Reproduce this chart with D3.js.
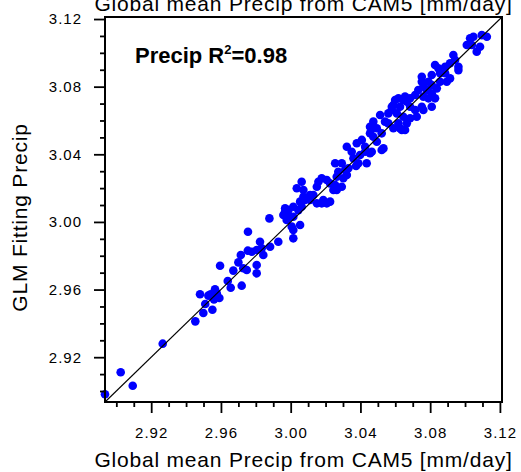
<!DOCTYPE html>
<html>
<head>
<meta charset="utf-8">
<script src="https://cdn.jsdelivr.net/npm/d3@7"></script>
<style>
  html, body { margin: 0; padding: 0; background: #fff; }
  svg { display: block; }
  text { font-family: "Liberation Sans", Arial, Helvetica, sans-serif; fill: #000; }
</style>
</head>
<body>
<svg id="chart" width="521" height="472"></svg>
<script>
// Global mean precipitation: CAM5 simulation (x) vs GLM fitted value (y), mm/day
const camPrecip = [
  2.8935, 2.9025, 2.9094, 2.9266, 2.9453, 2.9480, 2.9499, 2.9510, 2.9528, 2.9541,
  2.9551, 2.9566, 2.9560, 2.9576, 2.9591, 2.9595, 2.9639, 2.9656, 2.9671, 2.9700,
  2.9714, 2.9719, 2.9748, 2.9754, 2.9755, 2.9728, 2.9777, 2.9805, 2.9824, 2.9834,
  2.9805, 2.9805, 2.9843, 2.9882, 2.9929, 2.9878, 2.9958, 2.9968, 2.9987, 2.9996,
  2.9977, 3.0015, 3.0006, 3.0015, 3.0015, 3.0054, 3.0044, 3.0063, 3.0054, 3.0082,
  3.0073, 3.0035, 3.0063, 3.0111, 3.0130, 3.0150, 3.0178, 3.0207, 3.0226, 3.0159,
  3.0178, 3.0207, 3.0226, 3.0255, 3.0264, 3.0245, 3.0255, 3.0273, 3.0111, 3.0187,
  2.9968, 3.0015, 3.0293, 3.0302, 3.0322, 3.0331, 3.0375, 3.0436, 3.0427, 3.0455,
  3.0522, 3.0293, 3.0312, 3.0322, 3.0350, 3.0379, 3.0388, 3.0398, 3.0427, 3.0455,
  3.0465, 3.0494, 3.0494, 3.0532, 3.0541, 3.0560, 3.0580, 3.0589, 3.0618, 3.0637,
  3.0599, 3.0627, 3.0618, 3.0656, 3.0513, 3.0474, 3.0455, 3.0264, 3.1096, 3.1125,
  3.1048, 3.1029, 3.1010, 3.1039, 3.1086, 3.1067, 3.0933, 3.0943, 3.0962, 3.0962,
  3.0914, 3.0886, 3.0828, 3.0847, 3.0857, 3.0886, 3.0914, 3.0895, 3.0809, 3.0752,
  3.0752, 3.0790, 3.0809, 3.0838, 3.0857, 3.0761, 3.0732, 3.0781, 3.0809, 3.0828,
  3.0790, 3.0761, 3.0714, 3.0685, 3.0666, 3.0646, 3.0589, 3.0685, 3.0714, 3.0752,
  3.0809, 3.0761, 3.0580, 3.0609, 3.0646, 3.0685, 3.0723, 3.0666, 3.0560, 3.0474,
  3.0627, 3.0656, 3.0360, 3.0408, 3.0474, 3.0522, 3.0150, 3.0073
];
const glmPrecip = [
  2.8981, 2.9111, 2.9031, 2.9280, 2.9412, 2.9572, 2.9461, 2.9515, 2.9564, 2.9572,
  2.9481, 2.9602, 2.9542, 2.9578, 2.9550, 2.9741, 2.9651, 2.9611, 2.9712, 2.9761,
  2.9804, 2.9623, 2.9716, 2.9830, 2.9942, 2.9726, 2.9824, 2.9834, 2.9883, 2.9844,
  2.9745, 2.9696, 2.9804, 2.9853, 2.9883, 3.0021, 3.0041, 3.0060, 3.0070, 3.0031,
  3.0011, 3.0031, 2.9972, 2.9952, 2.9903, 2.9982, 3.0070, 3.0090, 3.0120, 3.0130,
  3.0149, 3.0199, 3.0238, 3.0159, 3.0159, 3.0110, 3.0110, 3.0110, 3.0120, 3.0238,
  3.0258, 3.0248, 3.0228, 3.0218, 3.0189, 3.0189, 3.0347, 3.0297, 3.0130, 3.0130,
  3.0081, 3.0090, 3.0347, 3.0258, 3.0278, 3.0317, 3.0331, 3.0347, 3.0415, 3.0406,
  3.0425, 3.0208, 3.0307, 3.0445, 3.0415, 3.0465, 3.0347, 3.0396, 3.0445, 3.0524,
  3.0415, 3.0474, 3.0554, 3.0435, 3.0593, 3.0642, 3.0681, 3.0554, 3.0583, 3.0544,
  3.0721, 3.0681, 3.0731, 3.0741, 3.0632, 3.0593, 3.0563, 3.0267, 3.1105, 3.1095,
  3.1095, 3.1086, 3.1046, 3.1046, 3.1036, 3.1007, 3.0987, 3.0958, 3.0918, 3.0898,
  3.0938, 3.0918, 3.0928, 3.0909, 3.0879, 3.0879, 3.0849, 3.0829, 3.0869, 3.0859,
  3.0829, 3.0829, 3.0810, 3.0790, 3.0829, 3.0800, 3.0780, 3.0780, 3.0761, 3.0731,
  3.0731, 3.0741, 3.0751, 3.0731, 3.0711, 3.0721, 3.0692, 3.0681, 3.0662, 3.0681,
  3.0681, 3.0662, 3.0662, 3.0642, 3.0622, 3.0613, 3.0622, 3.0583, 3.0583, 3.0554,
  3.0554, 3.0544, 3.0376, 3.0485, 3.0504, 3.0524, 3.0208, 3.0189
];

const axisRange = [2.8935, 3.1212];
const majorTicks = [2.92, 2.96, 3.00, 3.04, 3.08, 3.12];
const minorTicks = [2.90, 2.91, 2.93, 2.94, 2.95, 2.97, 2.98, 2.99, 3.01, 3.02, 3.03,
                    3.05, 3.06, 3.07, 3.09, 3.10, 3.11];
const xTitle = "Global mean Precip from CAM5 [mm/day]";
const yTitle = "GLM Fitting Precip";
const rSquared = "0.98";

const svg = d3.select("#chart");
const m = { left: 105, top: 17, right: 19, bottom: 70 };
const W = 521 - m.left - m.right;
const H = 472 - m.top - m.bottom;

const x = d3.scaleLinear().domain(axisRange).range([0, W]);
const y = d3.scaleLinear().domain(axisRange).range([H, 0]);

const g = svg.append("g").attr("transform", `translate(${m.left},${m.top})`);

// scatter points
const pts = d3.zip(camPrecip, glmPrecip);
g.append("g").selectAll("circle").data(pts).join("circle")
  .attr("cx", d => x(d[0]))
  .attr("cy", d => y(d[1]))
  .attr("r", 4.3)
  .attr("fill", "#0000ff");

// 1:1 reference line
g.append("line")
  .attr("x1", x(axisRange[0])).attr("y1", y(axisRange[0]))
  .attr("x2", x(axisRange[1])).attr("y2", y(axisRange[1]))
  .attr("stroke", "#000").attr("stroke-width", 1.1);

// axes: major ticks with labels, minor ticks without
function styleAxis(sel) {
  sel.select(".domain").remove();
  sel.selectAll(".tick line").attr("stroke", "#000").attr("stroke-width", 1.8);
  sel.selectAll(".tick text")
    .style("font-size", "15px")
    .style("letter-spacing", "1px")
    .style("font-family", "'Liberation Sans', Arial, sans-serif")
    .attr("fill", "#000");
}

g.append("g").attr("transform", `translate(0,${H})`)
  .call(d3.axisBottom(x).tickValues(majorTicks).tickFormat(d3.format(".2f"))
    .tickSizeInner(11).tickSizeOuter(0).tickPadding(14))
  .call(styleAxis);
g.append("g").attr("transform", `translate(0,${H})`)
  .call(d3.axisBottom(x).tickValues(minorTicks).tickFormat("")
    .tickSizeInner(5).tickSizeOuter(0))
  .call(styleAxis);

g.append("g")
  .call(d3.axisLeft(y).tickValues(majorTicks).tickFormat(d3.format(".2f"))
    .tickSizeInner(11).tickSizeOuter(0).tickPadding(12))
  .call(styleAxis);
g.append("g")
  .call(d3.axisLeft(y).tickValues(minorTicks).tickFormat("")
    .tickSizeInner(5).tickSizeOuter(0))
  .call(styleAxis);

// plot frame
g.append("rect")
  .attr("x", 0).attr("y", 0).attr("width", W).attr("height", H)
  .attr("fill", "none").attr("stroke", "#000").attr("stroke-width", 2);

// annotation
const ann = g.append("text")
  .attr("x", 30).attr("y", 46)
  .style("font-size", "22px").style("font-weight", "bold");
ann.append("tspan").text("Precip R");
ann.append("tspan").attr("dy", -9).style("font-size", "13px").text("2");
ann.append("tspan").attr("dy", 9).text("=" + rSquared);

// axis titles
svg.append("text")
  .attr("x", m.left + W / 2).attr("y", 467)
  .attr("text-anchor", "middle")
  .style("font-size", "21px").style("letter-spacing", "0.8px")
  .text(xTitle);

svg.append("text")
  .attr("x", m.left + W / 2).attr("y", 11)
  .attr("text-anchor", "middle")
  .style("font-size", "21px").style("letter-spacing", "0.8px")
  .text(xTitle);

svg.append("text")
  .attr("transform", `translate(27,${m.top + H / 2 + 8}) rotate(-90)`)
  .attr("text-anchor", "middle")
  .style("font-size", "21px").style("letter-spacing", "0.8px")
  .text(yTitle);
</script>
</body>
</html>
